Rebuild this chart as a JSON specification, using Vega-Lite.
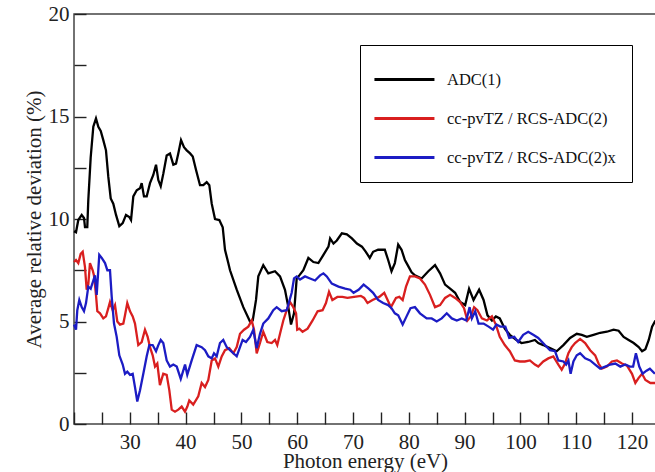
{
"$schema":"https://vega.github.io/schema/vega-lite/v6.json",
"width":582,"height":410,"autosize":"none",
"padding":{"left":74,"top":14,"right":0,"bottom":48},
"config":{"view":{"stroke":"#444","strokeWidth":1.5},
 "axis":{"labelFont":"Liberation Serif","labelFontSize":21,"labelColor":"#222","titleFont":"Liberation Serif","titleFontSize":21,"titleFontWeight":"normal","titleColor":"#222","domainColor":"#444","domainWidth":1.5}},
"data":{"values":[
{"s":"ADC(1)","e":20.0,"v":9.4},{"s":"ADC(1)","e":20.36,"v":9.35},{"s":"ADC(1)","e":20.77,"v":9.95},{"s":"ADC(1)","e":21.38,"v":10.2},{"s":"ADC(1)","e":21.79,"v":10.05},{"s":"ADC(1)","e":21.97,"v":9.6},{"s":"ADC(1)","e":22.38,"v":9.6},{"s":"ADC(1)","e":22.56,"v":10.9},{"s":"ADC(1)","e":22.99,"v":13.0},{"s":"ADC(1)","e":23.46,"v":14.5},{"s":"ADC(1)","e":23.94,"v":14.9},{"s":"ADC(1)","e":24.36,"v":14.5},{"s":"ADC(1)","e":24.79,"v":14.3},{"s":"ADC(1)","e":25.25,"v":13.85},{"s":"ADC(1)","e":25.73,"v":13.35},{"s":"ADC(1)","e":26.15,"v":12.05},{"s":"ADC(1)","e":26.58,"v":11.0},{"s":"ADC(1)","e":27.04,"v":10.75},{"s":"ADC(1)","e":27.53,"v":10.2},{"s":"ADC(1)","e":28.12,"v":9.65},{"s":"ADC(1)","e":28.73,"v":9.8},{"s":"ADC(1)","e":29.32,"v":10.2},{"s":"ADC(1)","e":29.91,"v":10.1},{"s":"ADC(1)","e":30.22,"v":9.95},{"s":"ADC(1)","e":30.63,"v":11.1},{"s":"ADC(1)","e":31.24,"v":11.4},{"s":"ADC(1)","e":31.83,"v":11.5},{"s":"ADC(1)","e":32.13,"v":11.75},{"s":"ADC(1)","e":32.54,"v":11.1},{"s":"ADC(1)","e":33.03,"v":11.1},{"s":"ADC(1)","e":33.62,"v":11.75},{"s":"ADC(1)","e":34.21,"v":12.15},{"s":"ADC(1)","e":34.7,"v":12.65},{"s":"ADC(1)","e":35.11,"v":11.9},{"s":"ADC(1)","e":35.54,"v":11.6},{"s":"ADC(1)","e":36.0,"v":12.2},{"s":"ADC(1)","e":36.61,"v":13.1},{"s":"ADC(1)","e":37.2,"v":13.2},{"s":"ADC(1)","e":37.8,"v":12.65},{"s":"ADC(1)","e":38.28,"v":12.7},{"s":"ADC(1)","e":38.69,"v":13.2},{"s":"ADC(1)","e":39.18,"v":13.85},{"s":"ADC(1)","e":39.71,"v":13.5},{"s":"ADC(1)","e":40.2,"v":13.35},{"s":"ADC(1)","e":40.8,"v":13.2},{"s":"ADC(1)","e":41.28,"v":13.05},{"s":"ADC(1)","e":41.86,"v":12.4},{"s":"ADC(1)","e":42.58,"v":11.65},{"s":"ADC(1)","e":43.17,"v":11.65},{"s":"ADC(1)","e":43.78,"v":11.8},{"s":"ADC(1)","e":44.25,"v":11.65},{"s":"ADC(1)","e":44.68,"v":10.75},{"s":"ADC(1)","e":45.27,"v":10.0},{"s":"ADC(1)","e":46.04,"v":9.95},{"s":"ADC(1)","e":46.65,"v":9.6},{"s":"ADC(1)","e":47.06,"v":8.5},{"s":"ADC(1)","e":47.65,"v":7.85},{"s":"ADC(1)","e":47.96,"v":7.5},{"s":"ADC(1)","e":49.16,"v":6.55},{"s":"ADC(1)","e":50.34,"v":5.7},{"s":"ADC(1)","e":51.54,"v":5.0},{"s":"ADC(1)","e":52.03,"v":5.05},{"s":"ADC(1)","e":52.62,"v":6.05},{"s":"ADC(1)","e":53.03,"v":7.2},{"s":"ADC(1)","e":53.92,"v":7.75},{"s":"ADC(1)","e":54.82,"v":7.35},{"s":"ADC(1)","e":56.02,"v":7.45},{"s":"ADC(1)","e":56.92,"v":7.2},{"s":"ADC(1)","e":57.81,"v":6.55},{"s":"ADC(1)","e":58.41,"v":5.7},{"s":"ADC(1)","e":58.89,"v":4.85},{"s":"ADC(1)","e":59.43,"v":5.4},{"s":"ADC(1)","e":59.91,"v":7.1},{"s":"ADC(1)","e":60.38,"v":7.25},{"s":"ADC(1)","e":61.1,"v":7.5},{"s":"ADC(1)","e":62.0,"v":8.1},{"s":"ADC(1)","e":62.9,"v":7.9},{"s":"ADC(1)","e":63.8,"v":7.85},{"s":"ADC(1)","e":64.7,"v":8.25},{"s":"ADC(1)","e":65.6,"v":8.65},{"s":"ADC(1)","e":65.9,"v":9.05},{"s":"ADC(1)","e":66.5,"v":8.8},{"s":"ADC(1)","e":67.1,"v":8.95},{"s":"ADC(1)","e":68.0,"v":9.3},{"s":"ADC(1)","e":68.9,"v":9.25},{"s":"ADC(1)","e":69.8,"v":9.05},{"s":"ADC(1)","e":70.7,"v":8.8},{"s":"ADC(1)","e":71.6,"v":8.65},{"s":"ADC(1)","e":72.3,"v":8.4},{"s":"ADC(1)","e":73.0,"v":8.1},{"s":"ADC(1)","e":73.6,"v":8.4},{"s":"ADC(1)","e":74.5,"v":8.5},{"s":"ADC(1)","e":75.7,"v":8.5},{"s":"ADC(1)","e":76.3,"v":8.0},{"s":"ADC(1)","e":76.9,"v":7.45},{"s":"ADC(1)","e":77.5,"v":7.85},{"s":"ADC(1)","e":78.1,"v":8.75},{"s":"ADC(1)","e":78.7,"v":8.5},{"s":"ADC(1)","e":79.3,"v":8.0},{"s":"ADC(1)","e":79.9,"v":7.7},{"s":"ADC(1)","e":80.5,"v":7.4},{"s":"ADC(1)","e":81.1,"v":7.25},{"s":"ADC(1)","e":82.3,"v":7.1},{"s":"ADC(1)","e":83.5,"v":7.45},{"s":"ADC(1)","e":84.7,"v":7.75},{"s":"ADC(1)","e":85.6,"v":7.35},{"s":"ADC(1)","e":86.5,"v":6.8},{"s":"ADC(1)","e":87.4,"v":6.6},{"s":"ADC(1)","e":88.3,"v":6.4},{"s":"ADC(1)","e":89.2,"v":5.95},{"s":"ADC(1)","e":90.1,"v":5.8},{"s":"ADC(1)","e":90.8,"v":6.6},{"s":"ADC(1)","e":91.6,"v":6.05},{"s":"ADC(1)","e":92.6,"v":6.55},{"s":"ADC(1)","e":93.4,"v":6.05},{"s":"ADC(1)","e":94.1,"v":5.3},{"s":"ADC(1)","e":94.9,"v":5.05},{"s":"ADC(1)","e":95.6,"v":5.25},{"s":"ADC(1)","e":96.3,"v":5.15},{"s":"ADC(1)","e":97.2,"v":4.65},{"s":"ADC(1)","e":98.1,"v":4.35},{"s":"ADC(1)","e":99.3,"v":4.1},{"s":"ADC(1)","e":100.2,"v":3.95},{"s":"ADC(1)","e":101.4,"v":4.0},{"s":"ADC(1)","e":102.6,"v":4.1},{"s":"ADC(1)","e":103.2,"v":3.95},{"s":"ADC(1)","e":104.1,"v":3.85},{"s":"ADC(1)","e":105.3,"v":3.7},{"s":"ADC(1)","e":106.5,"v":3.55},{"s":"ADC(1)","e":107.7,"v":3.85},{"s":"ADC(1)","e":108.9,"v":4.2},{"s":"ADC(1)","e":110.1,"v":4.4},{"s":"ADC(1)","e":111.0,"v":4.35},{"s":"ADC(1)","e":111.9,"v":4.25},{"s":"ADC(1)","e":113.1,"v":4.35},{"s":"ADC(1)","e":114.3,"v":4.45},{"s":"ADC(1)","e":115.5,"v":4.5},{"s":"ADC(1)","e":116.7,"v":4.6},{"s":"ADC(1)","e":117.6,"v":4.55},{"s":"ADC(1)","e":118.5,"v":4.25},{"s":"ADC(1)","e":119.4,"v":4.1},{"s":"ADC(1)","e":120.3,"v":3.95},{"s":"ADC(1)","e":121.2,"v":3.75},{"s":"ADC(1)","e":121.8,"v":3.55},{"s":"ADC(1)","e":122.4,"v":3.65},{"s":"ADC(1)","e":123.0,"v":4.1},{"s":"ADC(1)","e":123.6,"v":4.75},{"s":"ADC(1)","e":124.2,"v":5.05},
{"s":"cc-pvTZ / RCS-ADC(2)","e":20.0,"v":7.9},{"s":"cc-pvTZ / RCS-ADC(2)","e":20.36,"v":8.0},{"s":"cc-pvTZ / RCS-ADC(2)","e":20.77,"v":7.85},{"s":"cc-pvTZ / RCS-ADC(2)","e":21.2,"v":8.3},{"s":"cc-pvTZ / RCS-ADC(2)","e":21.56,"v":8.4},{"s":"cc-pvTZ / RCS-ADC(2)","e":21.97,"v":7.65},{"s":"cc-pvTZ / RCS-ADC(2)","e":22.27,"v":6.55},{"s":"cc-pvTZ / RCS-ADC(2)","e":22.56,"v":6.8},{"s":"cc-pvTZ / RCS-ADC(2)","e":22.86,"v":7.85},{"s":"cc-pvTZ / RCS-ADC(2)","e":23.35,"v":7.5},{"s":"cc-pvTZ / RCS-ADC(2)","e":23.58,"v":7.25},{"s":"cc-pvTZ / RCS-ADC(2)","e":23.94,"v":6.3},{"s":"cc-pvTZ / RCS-ADC(2)","e":24.18,"v":5.5},{"s":"cc-pvTZ / RCS-ADC(2)","e":24.66,"v":5.4},{"s":"cc-pvTZ / RCS-ADC(2)","e":25.25,"v":5.15},{"s":"cc-pvTZ / RCS-ADC(2)","e":25.73,"v":5.25},{"s":"cc-pvTZ / RCS-ADC(2)","e":26.15,"v":5.65},{"s":"cc-pvTZ / RCS-ADC(2)","e":26.45,"v":5.95},{"s":"cc-pvTZ / RCS-ADC(2)","e":26.94,"v":5.55},{"s":"cc-pvTZ / RCS-ADC(2)","e":27.35,"v":5.8},{"s":"cc-pvTZ / RCS-ADC(2)","e":27.76,"v":5.0},{"s":"cc-pvTZ / RCS-ADC(2)","e":28.24,"v":4.85},{"s":"cc-pvTZ / RCS-ADC(2)","e":28.84,"v":4.9},{"s":"cc-pvTZ / RCS-ADC(2)","e":29.14,"v":5.3},{"s":"cc-pvTZ / RCS-ADC(2)","e":29.55,"v":5.9},{"s":"cc-pvTZ / RCS-ADC(2)","e":30.04,"v":5.5},{"s":"cc-pvTZ / RCS-ADC(2)","e":30.52,"v":5.25},{"s":"cc-pvTZ / RCS-ADC(2)","e":30.93,"v":4.9},{"s":"cc-pvTZ / RCS-ADC(2)","e":31.52,"v":3.85},{"s":"cc-pvTZ / RCS-ADC(2)","e":32.13,"v":4.0},{"s":"cc-pvTZ / RCS-ADC(2)","e":32.72,"v":4.6},{"s":"cc-pvTZ / RCS-ADC(2)","e":33.2,"v":4.25},{"s":"cc-pvTZ / RCS-ADC(2)","e":33.62,"v":3.75},{"s":"cc-pvTZ / RCS-ADC(2)","e":34.1,"v":3.35},{"s":"cc-pvTZ / RCS-ADC(2)","e":34.52,"v":2.8},{"s":"cc-pvTZ / RCS-ADC(2)","e":34.93,"v":2.95},{"s":"cc-pvTZ / RCS-ADC(2)","e":35.4,"v":1.9},{"s":"cc-pvTZ / RCS-ADC(2)","e":36.0,"v":2.45},{"s":"cc-pvTZ / RCS-ADC(2)","e":36.61,"v":2.4},{"s":"cc-pvTZ / RCS-ADC(2)","e":37.08,"v":1.65},{"s":"cc-pvTZ / RCS-ADC(2)","e":37.51,"v":0.7},{"s":"cc-pvTZ / RCS-ADC(2)","e":38.1,"v":0.6},{"s":"cc-pvTZ / RCS-ADC(2)","e":38.69,"v":0.7},{"s":"cc-pvTZ / RCS-ADC(2)","e":39.3,"v":0.85},{"s":"cc-pvTZ / RCS-ADC(2)","e":39.89,"v":0.6},{"s":"cc-pvTZ / RCS-ADC(2)","e":40.31,"v":0.85},{"s":"cc-pvTZ / RCS-ADC(2)","e":40.66,"v":1.15},{"s":"cc-pvTZ / RCS-ADC(2)","e":41.37,"v":0.95},{"s":"cc-pvTZ / RCS-ADC(2)","e":42.27,"v":1.35},{"s":"cc-pvTZ / RCS-ADC(2)","e":42.88,"v":2.0},{"s":"cc-pvTZ / RCS-ADC(2)","e":43.48,"v":1.8},{"s":"cc-pvTZ / RCS-ADC(2)","e":44.07,"v":2.15},{"s":"cc-pvTZ / RCS-ADC(2)","e":44.68,"v":3.1},{"s":"cc-pvTZ / RCS-ADC(2)","e":45.27,"v":3.2},{"s":"cc-pvTZ / RCS-ADC(2)","e":45.86,"v":2.8},{"s":"cc-pvTZ / RCS-ADC(2)","e":46.47,"v":3.3},{"s":"cc-pvTZ / RCS-ADC(2)","e":47.06,"v":3.6},{"s":"cc-pvTZ / RCS-ADC(2)","e":47.83,"v":3.7},{"s":"cc-pvTZ / RCS-ADC(2)","e":48.55,"v":3.45},{"s":"cc-pvTZ / RCS-ADC(2)","e":49.16,"v":3.75},{"s":"cc-pvTZ / RCS-ADC(2)","e":49.75,"v":4.4},{"s":"cc-pvTZ / RCS-ADC(2)","e":50.47,"v":4.6},{"s":"cc-pvTZ / RCS-ADC(2)","e":51.24,"v":4.75},{"s":"cc-pvTZ / RCS-ADC(2)","e":51.85,"v":5.05},{"s":"cc-pvTZ / RCS-ADC(2)","e":52.26,"v":4.6},{"s":"cc-pvTZ / RCS-ADC(2)","e":52.74,"v":3.45},{"s":"cc-pvTZ / RCS-ADC(2)","e":53.33,"v":3.95},{"s":"cc-pvTZ / RCS-ADC(2)","e":53.92,"v":4.5},{"s":"cc-pvTZ / RCS-ADC(2)","e":54.64,"v":4.0},{"s":"cc-pvTZ / RCS-ADC(2)","e":55.43,"v":3.95},{"s":"cc-pvTZ / RCS-ADC(2)","e":56.02,"v":4.1},{"s":"cc-pvTZ / RCS-ADC(2)","e":56.43,"v":3.85},{"s":"cc-pvTZ / RCS-ADC(2)","e":56.92,"v":4.4},{"s":"cc-pvTZ / RCS-ADC(2)","e":57.51,"v":5.05},{"s":"cc-pvTZ / RCS-ADC(2)","e":58.12,"v":5.55},{"s":"cc-pvTZ / RCS-ADC(2)","e":58.71,"v":5.95},{"s":"cc-pvTZ / RCS-ADC(2)","e":59.3,"v":5.7},{"s":"cc-pvTZ / RCS-ADC(2)","e":59.8,"v":5.4},{"s":"cc-pvTZ / RCS-ADC(2)","e":60.0,"v":4.6},{"s":"cc-pvTZ / RCS-ADC(2)","e":60.38,"v":4.65},{"s":"cc-pvTZ / RCS-ADC(2)","e":60.96,"v":4.5},{"s":"cc-pvTZ / RCS-ADC(2)","e":61.86,"v":4.65},{"s":"cc-pvTZ / RCS-ADC(2)","e":62.76,"v":5.05},{"s":"cc-pvTZ / RCS-ADC(2)","e":63.66,"v":5.5},{"s":"cc-pvTZ / RCS-ADC(2)","e":64.55,"v":5.55},{"s":"cc-pvTZ / RCS-ADC(2)","e":65.15,"v":5.9},{"s":"cc-pvTZ / RCS-ADC(2)","e":65.7,"v":6.45},{"s":"cc-pvTZ / RCS-ADC(2)","e":66.3,"v":6.05},{"s":"cc-pvTZ / RCS-ADC(2)","e":67.2,"v":6.2},{"s":"cc-pvTZ / RCS-ADC(2)","e":68.1,"v":6.2},{"s":"cc-pvTZ / RCS-ADC(2)","e":69.0,"v":6.15},{"s":"cc-pvTZ / RCS-ADC(2)","e":70.2,"v":6.2},{"s":"cc-pvTZ / RCS-ADC(2)","e":71.4,"v":6.25},{"s":"cc-pvTZ / RCS-ADC(2)","e":72.0,"v":6.15},{"s":"cc-pvTZ / RCS-ADC(2)","e":72.6,"v":5.9},{"s":"cc-pvTZ / RCS-ADC(2)","e":73.5,"v":6.05},{"s":"cc-pvTZ / RCS-ADC(2)","e":74.7,"v":6.2},{"s":"cc-pvTZ / RCS-ADC(2)","e":75.6,"v":6.4},{"s":"cc-pvTZ / RCS-ADC(2)","e":76.2,"v":6.05},{"s":"cc-pvTZ / RCS-ADC(2)","e":76.8,"v":5.7},{"s":"cc-pvTZ / RCS-ADC(2)","e":77.7,"v":6.15},{"s":"cc-pvTZ / RCS-ADC(2)","e":78.3,"v":6.2},{"s":"cc-pvTZ / RCS-ADC(2)","e":78.9,"v":6.05},{"s":"cc-pvTZ / RCS-ADC(2)","e":79.5,"v":6.7},{"s":"cc-pvTZ / RCS-ADC(2)","e":80.2,"v":7.2},{"s":"cc-pvTZ / RCS-ADC(2)","e":81.1,"v":7.2},{"s":"cc-pvTZ / RCS-ADC(2)","e":82.0,"v":7.1},{"s":"cc-pvTZ / RCS-ADC(2)","e":82.9,"v":6.8},{"s":"cc-pvTZ / RCS-ADC(2)","e":83.8,"v":6.3},{"s":"cc-pvTZ / RCS-ADC(2)","e":84.7,"v":5.7},{"s":"cc-pvTZ / RCS-ADC(2)","e":85.6,"v":5.8},{"s":"cc-pvTZ / RCS-ADC(2)","e":86.5,"v":6.15},{"s":"cc-pvTZ / RCS-ADC(2)","e":87.4,"v":6.3},{"s":"cc-pvTZ / RCS-ADC(2)","e":88.3,"v":6.15},{"s":"cc-pvTZ / RCS-ADC(2)","e":89.2,"v":5.95},{"s":"cc-pvTZ / RCS-ADC(2)","e":89.9,"v":5.65},{"s":"cc-pvTZ / RCS-ADC(2)","e":90.5,"v":5.05},{"s":"cc-pvTZ / RCS-ADC(2)","e":91.1,"v":5.25},{"s":"cc-pvTZ / RCS-ADC(2)","e":91.7,"v":5.7},{"s":"cc-pvTZ / RCS-ADC(2)","e":92.3,"v":5.55},{"s":"cc-pvTZ / RCS-ADC(2)","e":93.1,"v":5.15},{"s":"cc-pvTZ / RCS-ADC(2)","e":94.0,"v":5.05},{"s":"cc-pvTZ / RCS-ADC(2)","e":94.9,"v":5.25},{"s":"cc-pvTZ / RCS-ADC(2)","e":95.6,"v":4.85},{"s":"cc-pvTZ / RCS-ADC(2)","e":96.3,"v":4.25},{"s":"cc-pvTZ / RCS-ADC(2)","e":97.2,"v":3.85},{"s":"cc-pvTZ / RCS-ADC(2)","e":98.1,"v":3.55},{"s":"cc-pvTZ / RCS-ADC(2)","e":99.0,"v":3.1},{"s":"cc-pvTZ / RCS-ADC(2)","e":99.9,"v":3.05},{"s":"cc-pvTZ / RCS-ADC(2)","e":100.8,"v":3.05},{"s":"cc-pvTZ / RCS-ADC(2)","e":101.7,"v":3.1},{"s":"cc-pvTZ / RCS-ADC(2)","e":102.6,"v":2.9},{"s":"cc-pvTZ / RCS-ADC(2)","e":103.2,"v":2.8},{"s":"cc-pvTZ / RCS-ADC(2)","e":104.1,"v":3.05},{"s":"cc-pvTZ / RCS-ADC(2)","e":105.0,"v":3.2},{"s":"cc-pvTZ / RCS-ADC(2)","e":105.9,"v":3.3},{"s":"cc-pvTZ / RCS-ADC(2)","e":106.8,"v":2.9},{"s":"cc-pvTZ / RCS-ADC(2)","e":107.4,"v":2.65},{"s":"cc-pvTZ / RCS-ADC(2)","e":108.0,"v":2.95},{"s":"cc-pvTZ / RCS-ADC(2)","e":108.6,"v":3.45},{"s":"cc-pvTZ / RCS-ADC(2)","e":109.2,"v":3.75},{"s":"cc-pvTZ / RCS-ADC(2)","e":109.8,"v":3.95},{"s":"cc-pvTZ / RCS-ADC(2)","e":110.7,"v":4.15},{"s":"cc-pvTZ / RCS-ADC(2)","e":111.6,"v":3.95},{"s":"cc-pvTZ / RCS-ADC(2)","e":112.5,"v":3.6},{"s":"cc-pvTZ / RCS-ADC(2)","e":113.4,"v":3.35},{"s":"cc-pvTZ / RCS-ADC(2)","e":114.0,"v":2.95},{"s":"cc-pvTZ / RCS-ADC(2)","e":114.6,"v":2.7},{"s":"cc-pvTZ / RCS-ADC(2)","e":115.5,"v":2.8},{"s":"cc-pvTZ / RCS-ADC(2)","e":116.4,"v":3.05},{"s":"cc-pvTZ / RCS-ADC(2)","e":117.3,"v":3.1},{"s":"cc-pvTZ / RCS-ADC(2)","e":118.2,"v":2.95},{"s":"cc-pvTZ / RCS-ADC(2)","e":119.1,"v":2.85},{"s":"cc-pvTZ / RCS-ADC(2)","e":120.0,"v":2.45},{"s":"cc-pvTZ / RCS-ADC(2)","e":120.6,"v":2.0},{"s":"cc-pvTZ / RCS-ADC(2)","e":121.2,"v":2.25},{"s":"cc-pvTZ / RCS-ADC(2)","e":121.8,"v":2.45},{"s":"cc-pvTZ / RCS-ADC(2)","e":122.4,"v":2.15},{"s":"cc-pvTZ / RCS-ADC(2)","e":123.3,"v":2.0},{"s":"cc-pvTZ / RCS-ADC(2)","e":124.2,"v":2.0},
{"s":"cc-pvTZ / RCS-ADC(2)x","e":20.0,"v":4.85},{"s":"cc-pvTZ / RCS-ADC(2)x","e":20.36,"v":4.6},{"s":"cc-pvTZ / RCS-ADC(2)x","e":20.59,"v":5.55},{"s":"cc-pvTZ / RCS-ADC(2)x","e":20.95,"v":6.05},{"s":"cc-pvTZ / RCS-ADC(2)x","e":21.38,"v":5.7},{"s":"cc-pvTZ / RCS-ADC(2)x","e":21.79,"v":5.5},{"s":"cc-pvTZ / RCS-ADC(2)x","e":22.15,"v":5.9},{"s":"cc-pvTZ / RCS-ADC(2)x","e":22.56,"v":6.7},{"s":"cc-pvTZ / RCS-ADC(2)x","e":22.99,"v":6.6},{"s":"cc-pvTZ / RCS-ADC(2)x","e":23.46,"v":7.0},{"s":"cc-pvTZ / RCS-ADC(2)x","e":23.76,"v":7.25},{"s":"cc-pvTZ / RCS-ADC(2)x","e":24.07,"v":6.3},{"s":"cc-pvTZ / RCS-ADC(2)x","e":24.53,"v":8.25},{"s":"cc-pvTZ / RCS-ADC(2)x","e":24.97,"v":8.1},{"s":"cc-pvTZ / RCS-ADC(2)x","e":25.56,"v":7.85},{"s":"cc-pvTZ / RCS-ADC(2)x","e":25.98,"v":7.5},{"s":"cc-pvTZ / RCS-ADC(2)x","e":26.45,"v":7.5},{"s":"cc-pvTZ / RCS-ADC(2)x","e":26.76,"v":6.2},{"s":"cc-pvTZ / RCS-ADC(2)x","e":27.17,"v":4.9},{"s":"cc-pvTZ / RCS-ADC(2)x","e":27.65,"v":4.25},{"s":"cc-pvTZ / RCS-ADC(2)x","e":28.12,"v":3.35},{"s":"cc-pvTZ / RCS-ADC(2)x","e":28.73,"v":2.9},{"s":"cc-pvTZ / RCS-ADC(2)x","e":29.14,"v":2.45},{"s":"cc-pvTZ / RCS-ADC(2)x","e":29.55,"v":2.55},{"s":"cc-pvTZ / RCS-ADC(2)x","e":30.04,"v":2.4},{"s":"cc-pvTZ / RCS-ADC(2)x","e":30.52,"v":2.45},{"s":"cc-pvTZ / RCS-ADC(2)x","e":30.93,"v":1.8},{"s":"cc-pvTZ / RCS-ADC(2)x","e":31.34,"v":1.1},{"s":"cc-pvTZ / RCS-ADC(2)x","e":31.83,"v":1.65},{"s":"cc-pvTZ / RCS-ADC(2)x","e":32.42,"v":2.45},{"s":"cc-pvTZ / RCS-ADC(2)x","e":33.03,"v":3.3},{"s":"cc-pvTZ / RCS-ADC(2)x","e":33.5,"v":3.85},{"s":"cc-pvTZ / RCS-ADC(2)x","e":34.1,"v":3.85},{"s":"cc-pvTZ / RCS-ADC(2)x","e":34.7,"v":3.55},{"s":"cc-pvTZ / RCS-ADC(2)x","e":35.11,"v":3.85},{"s":"cc-pvTZ / RCS-ADC(2)x","e":35.54,"v":4.1},{"s":"cc-pvTZ / RCS-ADC(2)x","e":36.0,"v":3.95},{"s":"cc-pvTZ / RCS-ADC(2)x","e":36.61,"v":3.1},{"s":"cc-pvTZ / RCS-ADC(2)x","e":37.2,"v":2.8},{"s":"cc-pvTZ / RCS-ADC(2)x","e":37.8,"v":2.9},{"s":"cc-pvTZ / RCS-ADC(2)x","e":38.41,"v":2.8},{"s":"cc-pvTZ / RCS-ADC(2)x","e":39.13,"v":2.2},{"s":"cc-pvTZ / RCS-ADC(2)x","e":39.9,"v":2.9},{"s":"cc-pvTZ / RCS-ADC(2)x","e":40.3,"v":2.4},{"s":"cc-pvTZ / RCS-ADC(2)x","e":41.09,"v":3.1},{"s":"cc-pvTZ / RCS-ADC(2)x","e":41.98,"v":3.85},{"s":"cc-pvTZ / RCS-ADC(2)x","e":42.88,"v":3.75},{"s":"cc-pvTZ / RCS-ADC(2)x","e":43.48,"v":3.6},{"s":"cc-pvTZ / RCS-ADC(2)x","e":44.07,"v":3.3},{"s":"cc-pvTZ / RCS-ADC(2)x","e":44.68,"v":3.2},{"s":"cc-pvTZ / RCS-ADC(2)x","e":45.09,"v":3.45},{"s":"cc-pvTZ / RCS-ADC(2)x","e":45.57,"v":3.3},{"s":"cc-pvTZ / RCS-ADC(2)x","e":46.16,"v":3.95},{"s":"cc-pvTZ / RCS-ADC(2)x","e":46.75,"v":4.1},{"s":"cc-pvTZ / RCS-ADC(2)x","e":47.37,"v":3.75},{"s":"cc-pvTZ / RCS-ADC(2)x","e":47.96,"v":3.6},{"s":"cc-pvTZ / RCS-ADC(2)x","e":48.55,"v":3.45},{"s":"cc-pvTZ / RCS-ADC(2)x","e":49.16,"v":3.3},{"s":"cc-pvTZ / RCS-ADC(2)x","e":49.75,"v":3.75},{"s":"cc-pvTZ / RCS-ADC(2)x","e":50.22,"v":4.1},{"s":"cc-pvTZ / RCS-ADC(2)x","e":50.82,"v":4.0},{"s":"cc-pvTZ / RCS-ADC(2)x","e":51.54,"v":4.25},{"s":"cc-pvTZ / RCS-ADC(2)x","e":52.13,"v":4.6},{"s":"cc-pvTZ / RCS-ADC(2)x","e":52.74,"v":3.7},{"s":"cc-pvTZ / RCS-ADC(2)x","e":53.33,"v":4.4},{"s":"cc-pvTZ / RCS-ADC(2)x","e":53.92,"v":4.9},{"s":"cc-pvTZ / RCS-ADC(2)x","e":54.82,"v":5.15},{"s":"cc-pvTZ / RCS-ADC(2)x","e":55.71,"v":5.55},{"s":"cc-pvTZ / RCS-ADC(2)x","e":56.32,"v":5.7},{"s":"cc-pvTZ / RCS-ADC(2)x","e":57.22,"v":5.5},{"s":"cc-pvTZ / RCS-ADC(2)x","e":58.12,"v":5.55},{"s":"cc-pvTZ / RCS-ADC(2)x","e":59.01,"v":6.4},{"s":"cc-pvTZ / RCS-ADC(2)x","e":59.43,"v":7.1},{"s":"cc-pvTZ / RCS-ADC(2)x","e":59.91,"v":7.2},{"s":"cc-pvTZ / RCS-ADC(2)x","e":60.5,"v":7.05},{"s":"cc-pvTZ / RCS-ADC(2)x","e":61.4,"v":7.2},{"s":"cc-pvTZ / RCS-ADC(2)x","e":62.3,"v":7.1},{"s":"cc-pvTZ / RCS-ADC(2)x","e":63.2,"v":7.0},{"s":"cc-pvTZ / RCS-ADC(2)x","e":64.1,"v":7.25},{"s":"cc-pvTZ / RCS-ADC(2)x","e":64.7,"v":7.35},{"s":"cc-pvTZ / RCS-ADC(2)x","e":65.3,"v":7.2},{"s":"cc-pvTZ / RCS-ADC(2)x","e":66.2,"v":6.85},{"s":"cc-pvTZ / RCS-ADC(2)x","e":67.4,"v":6.7},{"s":"cc-pvTZ / RCS-ADC(2)x","e":68.6,"v":6.6},{"s":"cc-pvTZ / RCS-ADC(2)x","e":69.5,"v":6.55},{"s":"cc-pvTZ / RCS-ADC(2)x","e":70.1,"v":6.4},{"s":"cc-pvTZ / RCS-ADC(2)x","e":71.0,"v":6.55},{"s":"cc-pvTZ / RCS-ADC(2)x","e":71.9,"v":6.8},{"s":"cc-pvTZ / RCS-ADC(2)x","e":72.8,"v":6.6},{"s":"cc-pvTZ / RCS-ADC(2)x","e":73.6,"v":6.4},{"s":"cc-pvTZ / RCS-ADC(2)x","e":74.5,"v":6.05},{"s":"cc-pvTZ / RCS-ADC(2)x","e":75.4,"v":5.9},{"s":"cc-pvTZ / RCS-ADC(2)x","e":76.3,"v":5.8},{"s":"cc-pvTZ / RCS-ADC(2)x","e":76.9,"v":5.65},{"s":"cc-pvTZ / RCS-ADC(2)x","e":77.5,"v":5.4},{"s":"cc-pvTZ / RCS-ADC(2)x","e":78.1,"v":5.3},{"s":"cc-pvTZ / RCS-ADC(2)x","e":78.9,"v":4.85},{"s":"cc-pvTZ / RCS-ADC(2)x","e":79.6,"v":5.25},{"s":"cc-pvTZ / RCS-ADC(2)x","e":80.3,"v":5.65},{"s":"cc-pvTZ / RCS-ADC(2)x","e":81.1,"v":5.7},{"s":"cc-pvTZ / RCS-ADC(2)x","e":82.0,"v":5.4},{"s":"cc-pvTZ / RCS-ADC(2)x","e":83.2,"v":5.15},{"s":"cc-pvTZ / RCS-ADC(2)x","e":84.1,"v":5.15},{"s":"cc-pvTZ / RCS-ADC(2)x","e":85.0,"v":5.0},{"s":"cc-pvTZ / RCS-ADC(2)x","e":85.9,"v":5.15},{"s":"cc-pvTZ / RCS-ADC(2)x","e":86.8,"v":5.4},{"s":"cc-pvTZ / RCS-ADC(2)x","e":87.7,"v":5.15},{"s":"cc-pvTZ / RCS-ADC(2)x","e":88.6,"v":5.05},{"s":"cc-pvTZ / RCS-ADC(2)x","e":89.5,"v":5.15},{"s":"cc-pvTZ / RCS-ADC(2)x","e":90.3,"v":5.05},{"s":"cc-pvTZ / RCS-ADC(2)x","e":90.9,"v":5.7},{"s":"cc-pvTZ / RCS-ADC(2)x","e":91.3,"v":5.15},{"s":"cc-pvTZ / RCS-ADC(2)x","e":91.9,"v":5.5},{"s":"cc-pvTZ / RCS-ADC(2)x","e":92.5,"v":4.9},{"s":"cc-pvTZ / RCS-ADC(2)x","e":93.4,"v":4.9},{"s":"cc-pvTZ / RCS-ADC(2)x","e":94.3,"v":4.75},{"s":"cc-pvTZ / RCS-ADC(2)x","e":95.1,"v":4.6},{"s":"cc-pvTZ / RCS-ADC(2)x","e":95.7,"v":4.85},{"s":"cc-pvTZ / RCS-ADC(2)x","e":96.4,"v":4.75},{"s":"cc-pvTZ / RCS-ADC(2)x","e":97.3,"v":4.75},{"s":"cc-pvTZ / RCS-ADC(2)x","e":98.0,"v":4.2},{"s":"cc-pvTZ / RCS-ADC(2)x","e":98.9,"v":4.25},{"s":"cc-pvTZ / RCS-ADC(2)x","e":99.6,"v":4.0},{"s":"cc-pvTZ / RCS-ADC(2)x","e":100.5,"v":4.35},{"s":"cc-pvTZ / RCS-ADC(2)x","e":101.4,"v":4.5},{"s":"cc-pvTZ / RCS-ADC(2)x","e":102.3,"v":4.35},{"s":"cc-pvTZ / RCS-ADC(2)x","e":103.2,"v":4.2},{"s":"cc-pvTZ / RCS-ADC(2)x","e":104.4,"v":3.85},{"s":"cc-pvTZ / RCS-ADC(2)x","e":105.3,"v":3.6},{"s":"cc-pvTZ / RCS-ADC(2)x","e":106.2,"v":3.55},{"s":"cc-pvTZ / RCS-ADC(2)x","e":106.8,"v":3.1},{"s":"cc-pvTZ / RCS-ADC(2)x","e":107.7,"v":3.05},{"s":"cc-pvTZ / RCS-ADC(2)x","e":108.2,"v":2.9},{"s":"cc-pvTZ / RCS-ADC(2)x","e":108.6,"v":3.1},{"s":"cc-pvTZ / RCS-ADC(2)x","e":109.0,"v":2.45},{"s":"cc-pvTZ / RCS-ADC(2)x","e":109.5,"v":3.05},{"s":"cc-pvTZ / RCS-ADC(2)x","e":110.1,"v":3.35},{"s":"cc-pvTZ / RCS-ADC(2)x","e":110.7,"v":3.45},{"s":"cc-pvTZ / RCS-ADC(2)x","e":111.6,"v":3.2},{"s":"cc-pvTZ / RCS-ADC(2)x","e":112.5,"v":3.1},{"s":"cc-pvTZ / RCS-ADC(2)x","e":113.4,"v":2.9},{"s":"cc-pvTZ / RCS-ADC(2)x","e":114.3,"v":2.7},{"s":"cc-pvTZ / RCS-ADC(2)x","e":115.2,"v":2.8},{"s":"cc-pvTZ / RCS-ADC(2)x","e":116.1,"v":2.9},{"s":"cc-pvTZ / RCS-ADC(2)x","e":117.0,"v":2.95},{"s":"cc-pvTZ / RCS-ADC(2)x","e":117.9,"v":2.8},{"s":"cc-pvTZ / RCS-ADC(2)x","e":118.8,"v":2.9},{"s":"cc-pvTZ / RCS-ADC(2)x","e":119.6,"v":2.8},{"s":"cc-pvTZ / RCS-ADC(2)x","e":120.2,"v":2.8},{"s":"cc-pvTZ / RCS-ADC(2)x","e":120.7,"v":3.45},{"s":"cc-pvTZ / RCS-ADC(2)x","e":121.3,"v":2.8},{"s":"cc-pvTZ / RCS-ADC(2)x","e":121.9,"v":2.45},{"s":"cc-pvTZ / RCS-ADC(2)x","e":122.6,"v":2.6},{"s":"cc-pvTZ / RCS-ADC(2)x","e":123.2,"v":2.7},{"s":"cc-pvTZ / RCS-ADC(2)x","e":124.1,"v":2.45}
]},
"mark":{"type":"line","strokeWidth":2.3},
"encoding":{
 "x":{"field":"e","type":"quantitative","scale":{"domain":[20,124.3],"nice":false,"zero":false},
  "axis":{"orient":"bottom","values":[20,25,30,35,40,45,50,55,60,65,70,75,80,85,90,95,100,105,110,115,120],"labelExpr":"datum.value % 10 == 0 && datum.value > 20 ? datum.label : ''","ticks":true,"tickSize":-12,"tickColor":"#222222","tickOpacity":1,"tickWidth":1.4,"domain":false,"grid":false,"title":"Photon energy (eV)","labelPadding":19,"titlePadding":-2}},
 "y":{"field":"v","type":"quantitative","scale":{"domain":[0,20],"nice":false},
  "axis":{"orient":"left","values":[0,2.5,5,7.5,10,12.5,15,17.5,20],"labelExpr":"datum.value % 5 == 0 ? datum.label : ''","ticks":true,"tickSize":-12,"tickColor":"#222222","tickOpacity":1,"tickWidth":1.4,"domain":false,"grid":false,"title":"Average relative deviation (%)","labelPadding":17,"titlePadding":4}},
 "color":{"field":"s","type":"nominal",
  "scale":{"domain":["ADC(1)","cc-pvTZ / RCS-ADC(2)","cc-pvTZ / RCS-ADC(2)x"],"range":["#000000","#d91f1f","#1c1cc4"]},
  "legend":{"orient":"none","legendX":286,"legendY":31,"title":null,"symbolType":"M-1.18,0H2.35","symbolSize":1156,"symbolStrokeWidth":3,"labelFont":"Liberation Serif","labelFontSize":16.5,"labelColor":"#111","labelOffset":34,"padding":16,"rowPadding":12,"strokeColor":"#000","fillColor":"#fff","labelLimit":400}}
}
}
